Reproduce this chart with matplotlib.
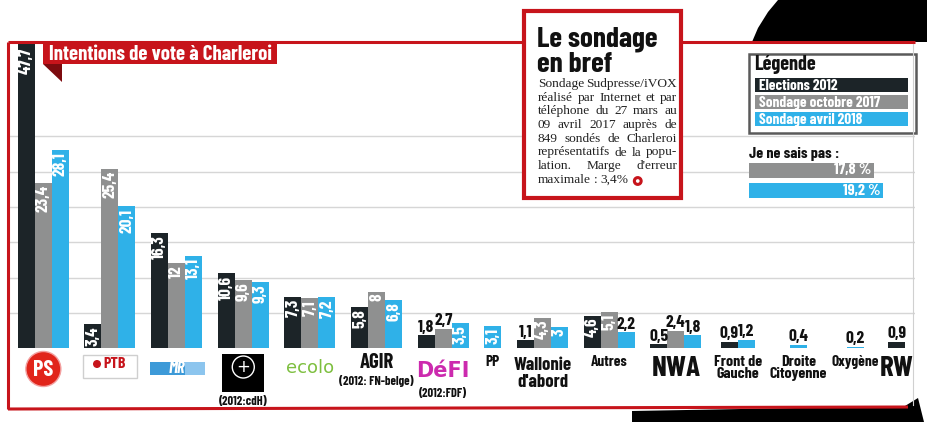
import numpy as np
import matplotlib
matplotlib.use('Agg')
import matplotlib.pyplot as plt
from matplotlib.patches import Rectangle, Polygon, Circle

categories = ['PS', 'PTB', 'MR', 'cdH', 'Ecolo', 'AGIR', 'DéFI', 'PP',
              "Wallonie\nd'abord", 'Autres', 'NWA', 'Front de\nGauche',
              'Droite\nCitoyenne', 'Oxygène', 'RW']
elections_2012 = [47.7, 3.4, 16.3, 10.6, 7.3, 5.8, 1.8, None, 1.1, 4.6, 0.5, 0.9, None, None, 0.9]
sondage_oct_2017 = [23.4, 25.4, 12, 9.6, 7.1, 8, 2.7, None, 4.3, 5.1, 2.4, None, None, None, None]
sondage_avr_2018 = [28.1, 20.1, 13.1, 9.3, 7.2, 6.8, 3.5, 3.1, 3, 2.2, 1.8, 1.2, 0.4, 0.2, None]
series_names = ['Elections 2012', 'Sondage octobre 2017', 'Sondage avril 2018']
je_ne_sais_pas = [17.8, 19.2]   # octobre 2017, avril 2018
notes_2012 = {'cdH': '(2012:cdH)', 'AGIR': '(2012: FN-belge)', 'DéFI': '(2012:FDF)'}
encadre_titre = ['Le sondage', 'en bref']
encadre_lignes = ['Sondage Sudpresse/iVOX',
                  'réalisé par Internet et par',
                  'téléphone du 27 mars au',
                  '09 avril 2017 auprès de',
                  '849 sondés de Charleroi',
                  'représentatifs de la popu-',
                  "lation. Marge d'erreur",
                  'maximale : 3,4%']

DARK = '#1c2428'
GREY = '#8f9090'
CYAN = '#2fb1e8'
RED = '#c7141b'
DARKRED = '#7d0b0f'
COLORS = [DARK, GREY, CYAN]
NARROW = ['Barlow Condensed', 'PT Sans Narrow', 'Roboto Condensed', 'DejaVu Sans']
SERIF = ['Liberation Serif', 'DejaVu Serif']

def fr(v):
    return f'{v:g}'.replace('.', ',')

fig = plt.figure(figsize=(9.27, 4.22), dpi=100)
W, H = 927, 422

# main bar axes: px 8..915 horizontally, baseline at px 348, top at px 42
ax = fig.add_axes([8 / W, (H - 348) / H, 907 / W, (348 - 42) / H])
ax.set_xlim(-0.12, -0.12 + 907 / 17)
ax.set_ylim(0, 306 / 7.05)
for s in ax.spines.values():
    s.set_visible(False)
ax.set_xticks([])
ax.set_yticks([5, 10, 15, 20, 25, 30])
ax.tick_params(left=False, labelleft=False)
ax.grid(axis='y', color='#d6d6d6', lw=1)
ax.set_axisbelow(True)

# groups are packed: only the bars that exist, a small gap, wider slot for long labels
series = [elections_2012, sondage_oct_2017, sondage_avr_2018]
GAP, PER_CHAR = 0.92, 0.42
bar_x = [[], [], []]
bar_h = [[], [], []]
centers = []
left = 0.0
for i, cat in enumerate(categories):
    present = [s for s in range(3) if series[s][i] is not None]
    longest = max(len(p) for p in cat.split('\n'))
    slot = max(len(present) + GAP, PER_CHAR * longest)
    c = left + slot / 2
    centers.append(c)
    start = c - len(present) / 2
    for k, s in enumerate(present):
        bar_x[s].append(start + k)
        bar_h[s].append(series[s][i])
    left += slot

ytop = ax.get_ylim()[1]
for s in range(3):
    ax.bar(bar_x[s], bar_h[s], width=1, align='edge', color=COLORS[s], lw=0, zorder=2)
    for x, v in zip(bar_x[s], bar_h[s]):
        if v >= 3:
            ax.text(x + 0.5, min(v, ytop - 0.5) - 0.3, fr(v), rotation=90, ha='center', va='top',
                    color='white', fontsize=12.5, fontweight='bold', family=NARROW, zorder=3)
        else:
            ax.text(x + 0.5, v + 0.1, fr(v), ha='center', va='bottom',
                    color='#111111', fontsize=12.5, fontweight='bold', family=NARROW, zorder=3)

# overlay in pixel coordinates for the decorations
ov = fig.add_axes([0, 0, 1, 1], zorder=5)
ov.set_xlim(0, W)
ov.set_ylim(H, 0)
ov.axis('off')

# torn black paper edges
ov.add_patch(Polygon([(752, 42), (758, 28), (768, 12), (778, 0), (927, 0), (927, 42)],
                     color='black', lw=0))
ov.add_patch(Polygon([(632, 411), (905, 406), (918, 398), (924, 422), (632, 422)],
                     color='black', lw=0))

# red frame
ov.plot([8, 915], [42, 42], color=RED, lw=2.2, solid_capstyle='butt')
ov.plot([8, 8], [42, 409], color=RED, lw=2.2, solid_capstyle='butt')
ov.plot([8, 908], [409, 407], color=RED, lw=2.2, solid_capstyle='butt')
ov.plot([913, 913], [44, 405], color='#d0d0d0', lw=0.8)

# title tag
ov.add_patch(Polygon([(43, 64), (62, 64), (62, 82)], color=DARKRED, lw=0))
ov.add_patch(Rectangle((43, 42), 234, 22, color=RED, lw=0))
ov.text(49, 54, 'Intentions de vote à Charleroi', color='white', fontsize=15,
        fontweight='bold', family=NARROW, va='center', ha='left')

# "Le sondage en bref" box
ov.add_patch(Rectangle((524, 11), 157, 187, facecolor='white', edgecolor=RED, lw=3, zorder=4))
for k, t in enumerate(encadre_titre):
    ov.text(537, 46 + k * 26, t, fontsize=21, fontweight='bold', family=NARROW,
            va='baseline', ha='left', zorder=5, color='#111111')
renderer = fig.canvas.get_renderer()
x0, x1 = 538, 677
for k, line in enumerate(encadre_lignes):
    y = 84 + k * 13.7
    words = line.split()
    tx = [ov.text(0, y, w, fontsize=9.6, family=SERIF, va='center', ha='left',
                  color='#222222', zorder=5) for w in words]
    widths = [t.get_window_extent(renderer).width for t in tx]
    if k == len(encadre_lignes) - 1 or len(words) == 1:
        sp = 3.0
    else:
        sp = (x1 - x0 - sum(widths)) / (len(words) - 1)
    x = x0
    for t, w in zip(tx, widths):
        t.set_x(x)
        x += w + sp
    last_end = x - sp
ov.add_patch(Circle((last_end + 9, 181), 3.4, facecolor='white', edgecolor=RED, lw=2.2, zorder=5))

# legend box
ov.add_patch(Rectangle((749, 54), 167, 79, facecolor='white', edgecolor='#5a5a5a', lw=1.8))
ov.text(754, 64, 'Légende', fontsize=14.5, fontweight='bold', family=NARROW, va='center',
        color='#111111')
for k, (name, col) in enumerate(zip(series_names, COLORS)):
    y = 78 + k * 17.2
    ov.add_patch(Rectangle((755, y), 153, 14, color=col, lw=0))
    ov.text(759, y + 7.5, name, color='white', fontsize=11, fontweight='bold',
            family=NARROW, va='center')

# "Je ne sais pas" bars
ov.text(749, 154, 'Je ne sais pas :', fontsize=11.5, fontweight='bold', family=NARROW,
        va='center', color='#111111')
ax2 = fig.add_axes([749 / W, (H - 201) / H, 166 / W, 41 / H])
ax2.set_xlim(0, 166 / 7.0)
ax2.set_ylim(-0.5, 1.5)
ax2.axis('off')
ax2.barh([1, 0], je_ne_sais_pas, height=0.72, color=[GREY, CYAN], lw=0)
for yy, v in zip([1, 0], je_ne_sais_pas):
    ax2.text(v - 0.4, yy, fr(v) + ' %', color='white', fontsize=11.5, fontweight='bold',
             family=NARROW, ha='right', va='center')

# category "logos" under the bars
def px_x(c):
    return ax.transData.transform((c, 0))[0]

for cat, c in zip(categories, centers):
    cx = px_x(c)
    if cat == 'PS':
        ov.add_patch(Circle((cx, 369), 17.5, facecolor='#e1251b', edgecolor='#f3a0a0', lw=1))
        ov.text(cx, 370, 'PS', color='white', fontsize=16, fontweight='bold',
                family=NARROW, ha='center', va='center')
    elif cat == 'PTB':
        ov.add_patch(Rectangle((cx - 27, 355), 54, 23, facecolor='white', edgecolor='#cfcfcf', lw=1))
        ov.add_patch(Circle((cx - 13, 364), 4, facecolor=RED, lw=0))
        ov.text(cx - 7, 364, 'PTB', color=RED, fontsize=11.5, fontweight='bold',
                family=NARROW, ha='left', va='center')
    elif cat == 'MR':
        ov.add_patch(Rectangle((cx - 27, 362), 55, 13, facecolor='#3d9ad8', lw=0))
        ov.add_patch(Rectangle((cx + 8, 362), 20, 13, facecolor='#8cc5ee', lw=0))
        ov.text(cx, 368.5, 'MR', color='white', fontsize=12, fontweight='bold', style='italic',
                family=NARROW, ha='center', va='center')
    elif cat == 'cdH':
        ov.add_patch(Rectangle((cx - 21, 354), 42, 38, facecolor='black', lw=0))
        ov.add_patch(Circle((cx, 367), 11, facecolor='none', edgecolor='white', lw=1))
        ov.text(cx, 367, '+', color='white', fontsize=12, ha='center', va='center')
        ov.text(cx, 402, notes_2012[cat], fontsize=9, fontweight='bold', family=NARROW,
                ha='center', va='center', color='#111111')
    elif cat == 'Ecolo':
        ov.text(cx, 368, 'ecolo', color='#7dbf3f', fontsize=13, family='DejaVu Sans',
                ha='center', va='center')
    elif cat == 'AGIR':
        ov.text(cx, 362, 'AGIR', fontsize=15, fontweight='bold', family=NARROW,
                ha='center', va='center', color='#111111')
        ov.text(cx, 381, notes_2012[cat], fontsize=9, fontweight='bold', family=NARROW,
                ha='center', va='center', color='#111111')
    elif cat == 'DéFI':
        ov.text(cx, 371, 'DéFI', color='#cc2aae', fontsize=15, fontweight='bold',
                family='DejaVu Sans', ha='center', va='center')
        ov.text(cx, 393, notes_2012[cat], fontsize=9, fontweight='bold', family=NARROW,
                ha='center', va='center', color='#111111')
    elif cat in ('NWA', 'RW'):
        ov.text(cx, 369, cat, fontsize=21, fontweight='bold', family=NARROW,
                ha='center', va='center', color='#111111')
    elif cat == "Wallonie\nd'abord":
        ov.text(cx, 374, cat, fontsize=13.5, fontweight='bold', family=NARROW,
                ha='center', va='center', color='#111111', linespacing=0.95)
    elif '\n' in cat:
        ov.text(cx, 368, cat, fontsize=11.5, fontweight='bold', family=NARROW,
                ha='center', va='center', color='#111111', linespacing=0.9)
    else:
        ov.text(cx, 362, cat, fontsize=11, fontweight='bold', family=NARROW,
                ha='center', va='center', color='#111111')

fig.savefig('out.png', dpi=100, facecolor='white')
